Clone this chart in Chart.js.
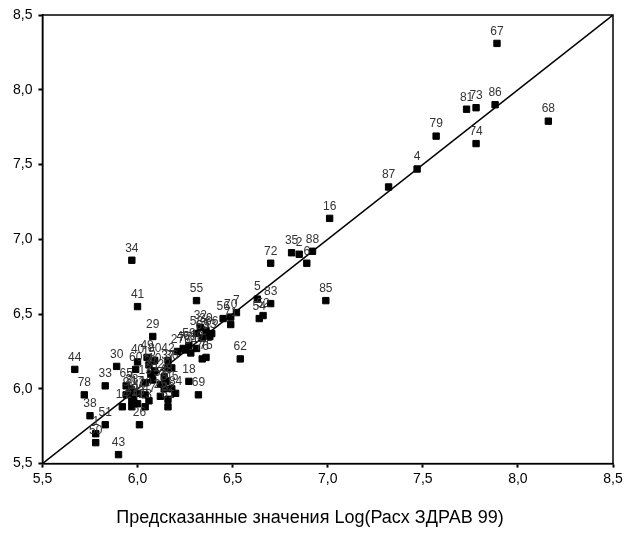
<!DOCTYPE html>
<html>
<head>
<meta charset="utf-8">
<script src="https://cdn.jsdelivr.net/npm/chart.js@4.4.1/dist/chart.umd.min.js"></script>
<style>
    html, body { margin: 0; padding: 0; background: #fff; }
</style>
</head>
<body>
<canvas id="scatterChart" width="628" height="539"></canvas>
<script>
var caseLabels = [
    '67', '68', '86', '73', '81', '79', '74', '4', '87', '16',
    '88', '2', '35', '6', '72', '85', '5', '83', '52', '54',
    '7', '70', '56', '71', '55', '62', '18', '69', '34', '41',
    '29', '44', '30', '33', '78', '38', '51', '1', '50', '43',
    '26', '14', '24', '12', '19', '23', '47', '20', '65', '3',
    '28', '9', '11', '17', '60', '40', '49', '15', '80', '42',
    '37', '36', '27', '77', '64', '59', '31', '10', '21', '13',
    '57', '22', '48', '25', '8', '82', '61', '84', '45', '76',
    '75', '58', '32', '63', '53', '39', '66', '46', '89'
];

// x: predicted Log values
var predictedValues = [
    7.89, 8.16, 7.88, 7.78, 7.73, 7.57, 7.78, 7.47, 7.32, 7.01,
    6.92, 6.85, 6.81, 6.89, 6.70, 6.99, 6.63, 6.70, 6.66, 6.64,
    6.52, 6.49, 6.45, 6.49, 6.31, 6.54, 6.27, 6.32, 5.97, 6.00,
    6.08, 5.67, 5.89, 5.83, 5.72, 5.75, 5.83, 5.78, 5.78, 5.90,
    6.01, 5.92, 5.97, 6.00, 5.97, 6.04, 6.06, 6.04, 5.94, 5.96,
    5.97, 5.94, 5.98, 6.00, 5.99, 6.00, 6.05, 6.06, 6.09, 6.16,
    6.16, 6.18, 6.21, 6.25, 6.28, 6.27, 6.07, 6.09, 6.08, 6.04,
    6.12, 6.14, 6.15, 6.12, 6.14, 6.16, 6.16, 6.20, 6.18, 6.34,
    6.36, 6.31, 6.33, 6.34, 6.38, 6.36, 6.39, 6.24, 6.31
];

// y: observed Log values
var observedValues = [
    8.31, 7.79, 7.90, 7.88, 7.87, 7.69, 7.64, 7.47, 7.35, 7.14,
    6.92, 6.90, 6.91, 6.84, 6.84, 6.59, 6.60, 6.57, 6.49, 6.47,
    6.51, 6.48, 6.47, 6.43, 6.59, 6.20, 6.05, 5.96, 6.86, 6.55,
    6.35, 6.13, 6.15, 6.02, 5.96, 5.82, 5.76, 5.70, 5.64, 5.56,
    5.76, 5.88, 5.88, 5.90, 5.92, 5.88, 5.92, 5.96, 6.02, 6.00,
    5.98, 5.96, 5.94, 5.97, 6.13, 6.18, 6.21, 6.16, 6.19, 6.19,
    6.14, 6.14, 6.25, 6.26, 6.24, 6.29, 6.10, 6.12, 6.06, 6.04,
    6.03, 6.08, 6.05, 5.95, 6.00, 5.93, 5.88, 5.97, 6.00, 6.20,
    6.21, 6.37, 6.41, 6.34, 6.35, 6.39, 6.37, 6.27, 6.27
];

var axisTicks = [5.5, 6.0, 6.5, 7.0, 7.5, 8.0, 8.5];
var diagonalEnds = [5.5, 8.5];
var xAxisTitle = 'Предсказанные значения Log(Расх ЗДРАВ 99)';

var points = [];
for (var i = 0; i < predictedValues.length; i++) {
    points.push({ x: predictedValues[i], y: observedValues[i] });
}
var diagonal = diagonalEnds.map(function(v) { return { x: v, y: v }; });

function commaLabel(value) {
    return Number(value).toFixed(1).replace('.', ',');
}

function setTicks(scale) {
    scale.ticks = axisTicks.map(function(v) { return { value: v }; });
}

// case numbers above the squares
var pointLabels = {
    id: 'pointLabels',
    afterDatasetsDraw: function(chart) {
        var ctx = chart.ctx;
        var meta = chart.getDatasetMeta(1);
        ctx.save();
        ctx.fillStyle = '#333';
        ctx.font = '12px "Liberation Sans", Arial, sans-serif';
        ctx.textAlign = 'center';
        ctx.textBaseline = 'bottom';
        meta.data.forEach(function(pt, i) {
            ctx.fillText(caseLabels[i], pt.x, pt.y - 6);
        });
        ctx.restore();
    }
};

// box round the plot area
var frame = {
    id: 'frame',
    afterDraw: function(chart) {
        var a = chart.chartArea;
        var ctx = chart.ctx;
        ctx.save();
        ctx.strokeStyle = '#000';
        ctx.lineWidth = 1.5;
        ctx.strokeRect(a.left, a.top, a.right - a.left, a.bottom - a.top);
        ctx.restore();
    }
};

var axisFont = { family: '"Liberation Sans", Arial, sans-serif', size: 14 };

var chart = new Chart(document.getElementById('scatterChart'), {
    type: 'scatter',
    data: {
        datasets: [{
            type: 'line',
            data: diagonal,
            borderColor: '#000',
            borderWidth: 1.5,
            pointRadius: 0,
            fill: false
        }, {
            data: points,
            pointStyle: 'rect',
            pointRadius: 4.5,
            backgroundColor: '#000',
            borderColor: '#000',
            borderWidth: 1
        }]
    },
    options: {
        responsive: false,
        animation: false,
        layout: {
            padding: { left: 7, right: 15, top: 15, bottom: 0 }
        },
        plugins: {
            legend: { display: false },
            tooltip: { enabled: false },
            title: {
                display: true,
                position: 'bottom',
                text: xAxisTitle,
                color: '#000',
                font: { family: '"Liberation Sans", Arial, sans-serif', size: 18, weight: 'normal' },
                padding: { top: 17, bottom: 10 }
            }
        },
        scales: {
            x: {
                type: 'linear',
                min: 5.5,
                max: 8.5,
                afterBuildTicks: setTicks,
                ticks: { color: '#000', font: axisFont, padding: 3, callback: commaLabel },
                grid: { drawOnChartArea: false, color: '#000', tickLength: 4, tickWidth: 2 },
                border: { color: '#000', width: 1.5 }
            },
            y: {
                type: 'linear',
                min: 5.5,
                max: 8.5,
                afterBuildTicks: setTicks,
                ticks: { color: '#000', font: axisFont, padding: 6, callback: commaLabel },
                grid: { drawOnChartArea: false, color: '#000', tickLength: 4, tickWidth: 2 },
                border: { color: '#000', width: 1.5 }
            }
        }
    },
    plugins: [pointLabels, frame]
});
</script>
</body>
</html>
